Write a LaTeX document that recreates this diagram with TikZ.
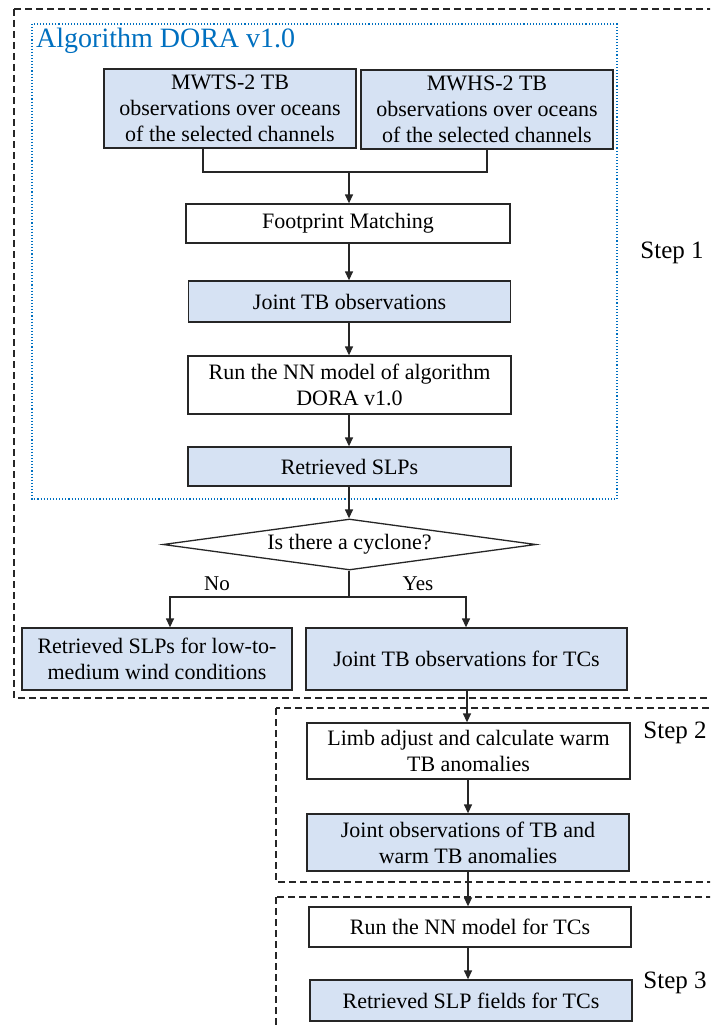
\documentclass[tikz,border=0pt]{standalone}
\usepackage{fontspec}
\setmainfont{Liberation Serif}
\usetikzlibrary{shapes.geometric,arrows.meta}
\definecolor{boxblue}{HTML}{D6E2F3}
\definecolor{titleblue}{HTML}{0070C0}
\tikzset{
  base/.style={draw=black!85, line width=1.3pt, align=center, inner sep=2pt,
    font=\fontsize{22}{26}\selectfont},
  bluebox/.style={base, fill=boxblue},
  whitebox/.style={base, fill=white},
  conn/.style={line width=1.3pt, draw=black!85},
  arr/.style={conn, -{Triangle[length=9pt,width=8pt]}},
  stepframe/.style={dashed, dash pattern=on 7pt off 4pt, line width=1.2pt, draw=black!85},
  steplabel/.style={font=\fontsize{25}{28}\selectfont},
  lbl/.style={font=\fontsize{21}{24}\selectfont}
}
\begin{document}
\begin{tikzpicture}[x=1pt,y=-1pt]
\clip (0,0) rectangle (710,1025);
\fill[white] (0,0) rectangle (710,1025);
% step frames
\draw[stepframe] (14,9) rectangle (720,698);
\draw[stepframe] (276,708) rectangle (720,882);
\draw[stepframe] (276,897) rectangle (720,1040);
% algorithm frame
\draw[titleblue, dotted, line width=1.1pt] (32,24) rectangle (617,499);
\node[anchor=west, text=titleblue, font=\fontsize{28}{30}\selectfont, inner sep=0pt] (title) at (36,41) {Algorithm DORA v1.0};
% nodes
\node[bluebox, minimum width=252, minimum height=79] (mwts) at (230,108.5) {MWTS-2 TB\\observations over oceans\\of the selected channels};
\node[bluebox, minimum width=252, minimum height=79] (mwhs) at (487,109.5) {MWHS-2 TB\\observations over oceans\\of the selected channels};
\node[whitebox, minimum width=324, minimum height=39] (foot) at (348,223.5) {Footprint Matching};
\node[bluebox, minimum width=322, minimum height=41] (joint) at (349.5,301.5) {Joint TB observations};
\node[whitebox, minimum width=323, minimum height=58] (nn) at (349.5,385) {Run the NN model of algorithm\\DORA v1.0};
\node[bluebox, minimum width=323, minimum height=39] (ret) at (349.5,466.5) {Retrieved SLPs};
\node[base, diamond, fill=white, aspect=7.3, inner sep=0pt, minimum width=373, minimum height=51] (dia) at (349.5,544.5) {Is there a cyclone?};
\node[bluebox, minimum width=270, minimum height=62] (low) at (157,659) {Retrieved SLPs for low-to-\\medium wind conditions};
\node[bluebox, minimum width=321, minimum height=62] (tc) at (466.5,659) {Joint TB observations for TCs};
\node[whitebox, minimum width=323, minimum height=56] (limb) at (468.5,751) {Limb adjust and calculate warm\\TB anomalies};
\node[bluebox, minimum width=322, minimum height=57] (jobs) at (468,842.5) {Joint observations of TB and\\warm TB anomalies};
\node[whitebox, minimum width=322, minimum height=40] (runtc) at (470,927) {Run the NN model for TCs};
\node[bluebox, minimum width=322, minimum height=41] (retf) at (471,1000.5) {Retrieved SLP fields for TCs};
% labels
\node[steplabel] (s1) at (672,253) {Step 1};
\node[steplabel] (s2) at (675,733) {Step 2};
\node[steplabel] (s3) at (675,983) {Step 3};
\node[lbl] (no) at (217,584) {No};
\node[lbl] (yes) at (418,584) {Yes};
% connectors
\coordinate (merge) at (349,172);
\coordinate (split) at (349,597);
\draw[conn] (mwts.south -| 203,0) |- (merge) -| (mwhs.south);
\draw[arr] (merge) -- (merge |- foot.north);
\draw[arr] (foot.south -| 349,0) -- (joint.north -| 349,0);
\draw[arr] (joint.south -| 349,0) -- (nn.north -| 349,0);
\draw[arr] (nn.south -| 349,0) -- (ret.north -| 349,0);
\draw[arr] (ret.south -| 349,0) -- (dia.north -| 349,0);
\draw[conn] (dia.south -| 349,0) -- (split);
\draw[arr] (split) -| (170,0 |- low.north);
\draw[arr] (split) -| (466,0 |- tc.north);
\draw[arr] (tc.south -| 467,0) -- (limb.north -| 467,0);
\draw[arr] (limb.south -| 468,0) -- (jobs.north -| 468,0);
\draw[arr] (jobs.south -| 468,0) -- (runtc.north -| 468,0);
\draw[arr] (runtc.south -| 468,0) -- (retf.north -| 468,0);
\end{tikzpicture}
\end{document}
